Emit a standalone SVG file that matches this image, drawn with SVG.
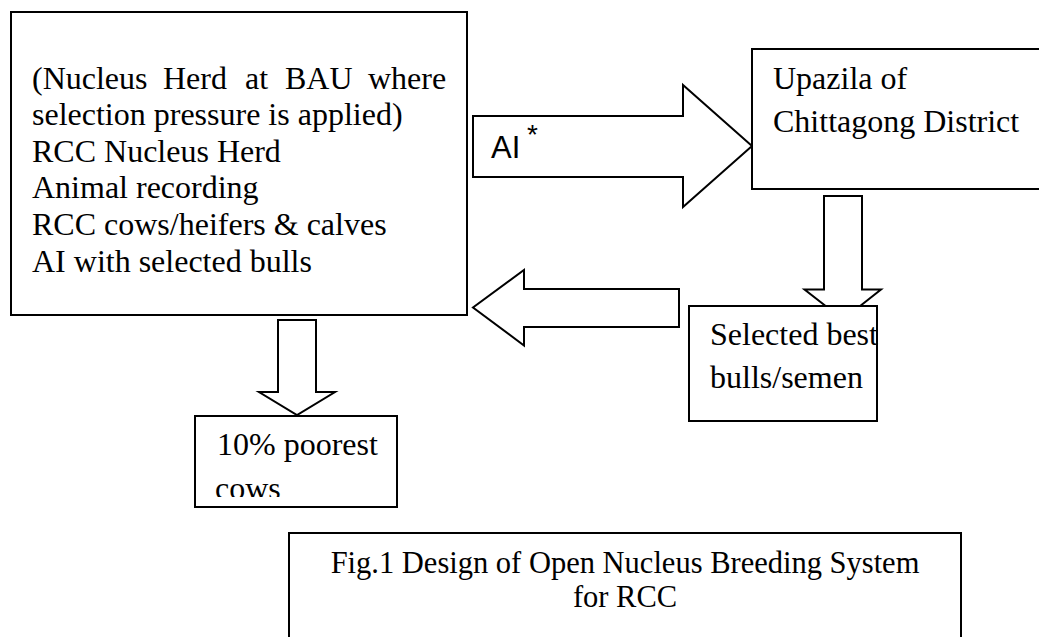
<svg xmlns="http://www.w3.org/2000/svg" width="1039" height="637" viewBox="0 0 1039 637">
<style>
.box{fill:#fff;stroke:#000;stroke-width:2}
.arrow{fill:#fff;stroke:#000;stroke-width:2;stroke-linejoin:miter}
.t{font-family:"Liberation Serif","Times New Roman",serif;font-size:32px;fill:#000}
.cap{font-family:"Liberation Serif","Times New Roman",serif;font-size:30.5px;fill:#000}
.s{font-family:"Liberation Sans",Arial,sans-serif;fill:#000}
</style>
<defs>
<clipPath id="clip10"><rect x="195" y="416" width="202" height="81"/></clipPath>
</defs>
<rect width="1039" height="637" fill="#fff"/>
<g id="connectors">
<path class="arrow" d="M473,116 H683 V85 L752,146 L683,207 V177 H473 Z"/>
<path class="arrow" d="M679,289 H524 V270 L473,307.5 L524,345.5 V327 H679 Z"/>
<path class="arrow" d="M824,196 H862 V289.5 H881 L843,319.5 L804.5,289.5 H824 Z"/>
<path class="arrow" d="M278,320 H316 V392 H335 L297,415 L259,392 H278 Z"/>
</g>
<g id="nucleus">
<rect class="box" x="11" y="12" width="456" height="303"/>
<text class="t" y="89"><tspan x="32">(Nucleus</tspan><tspan x="163">Herd</tspan><tspan x="245">at</tspan><tspan x="285">BAU</tspan><tspan x="368">where</tspan></text>
<text class="t" x="32" y="125">selection pressure is applied)</text>
<text class="t" x="32" y="162">RCC Nucleus Herd</text>
<text class="t" x="32" y="198">Animal recording</text>
<text class="t" x="32" y="235">RCC cows/heifers &amp; calves</text>
<text class="t" x="32" y="272">AI with selected bulls</text>
</g>
<g id="ai-label">
<text class="s" x="491" y="158" font-size="31">AI</text>
<text class="s" x="527" y="144" font-size="28">*</text>
</g>
<g id="upazila">
<rect class="box" x="752" y="49" width="300" height="140"/>
<text class="t" x="773" y="89">Upazila of</text>
<text class="t" x="773" y="132">Chittagong District</text>
</g>
<g id="selected">
<rect class="box" x="689" y="306" width="188" height="115"/>
<text class="t" x="710" y="345">Selected best</text>
<text class="t" x="710" y="388">bulls/semen</text>
</g>
<g id="poorest">
<rect class="box" x="195" y="416" width="202" height="91"/>
<text class="t" x="217" y="455">10% poorest</text>
<text class="t" x="215" y="499" clip-path="url(#clip10)">cows</text>
</g>
<g id="caption">
<rect class="box" x="289" y="533" width="672" height="120"/>
<text class="cap" x="625" y="573" text-anchor="middle">Fig.1 Design of Open Nucleus Breeding System</text>
<text class="cap" x="625" y="607" text-anchor="middle">for RCC</text>
</g>
</svg>
